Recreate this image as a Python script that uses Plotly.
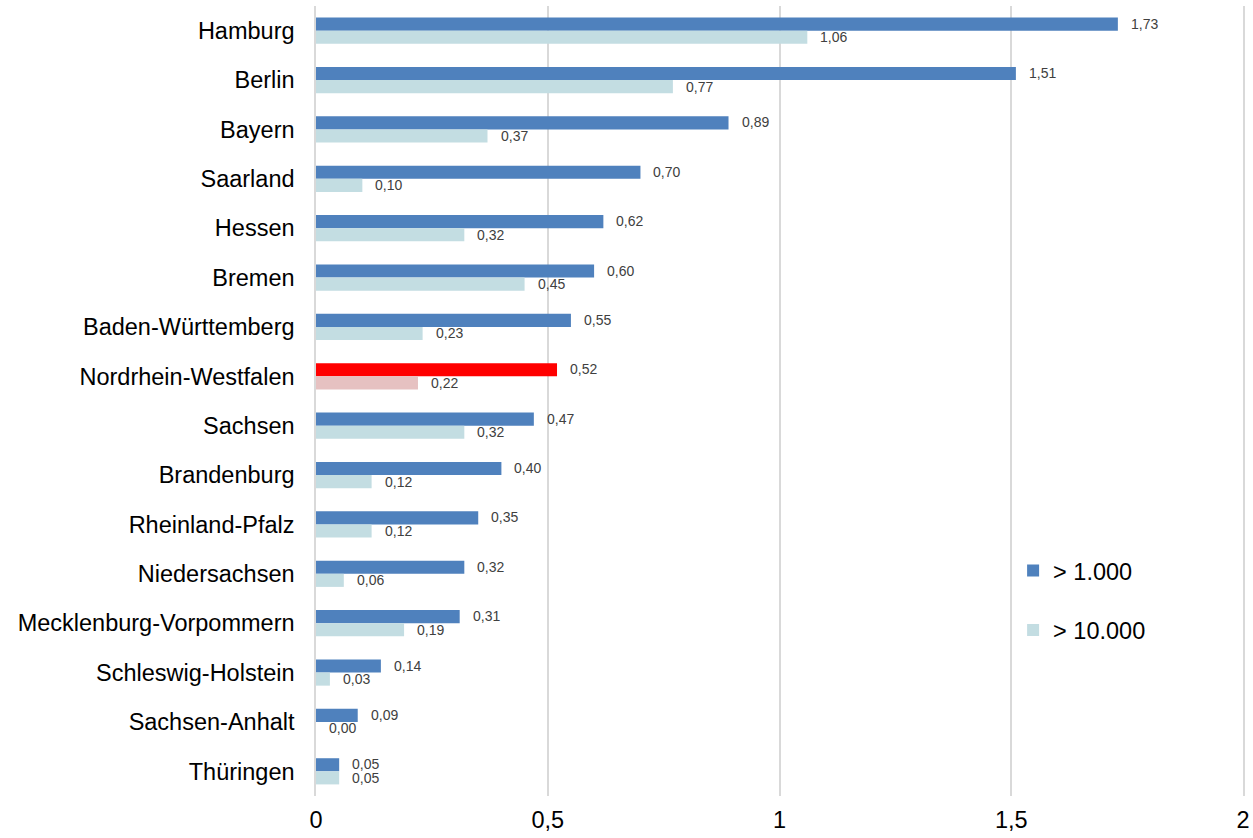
import plotly.graph_objects as go

laender = ["Hamburg", "Berlin", "Bayern", "Saarland", "Hessen", "Bremen",
           "Baden-Württemberg", "Nordrhein-Westfalen", "Sachsen", "Brandenburg",
           "Rheinland-Pfalz", "Niedersachsen", "Mecklenburg-Vorpommern",
           "Schleswig-Holstein", "Sachsen-Anhalt", "Thüringen"]
ueber_1000 = [1.73, 1.51, 0.89, 0.70, 0.62, 0.60, 0.55, 0.52, 0.47, 0.40,
              0.35, 0.32, 0.31, 0.14, 0.09, 0.05]
ueber_10000 = [1.06, 0.77, 0.37, 0.10, 0.32, 0.45, 0.23, 0.22, 0.32, 0.12,
               0.12, 0.06, 0.19, 0.03, 0.00, 0.05]
x_ticks = [0, 0.5, 1, 1.5, 2]
x_ticklabels = ["0", "0,5", "1", "1,5", "2"]

highlight = "Nordrhein-Westfalen"
c1 = ["#FF0000" if l == highlight else "#4F81BD" for l in laender]
c2 = ["#E6C1C1" if l == highlight else "#C3DDE2" for l in laender]

FONT = "Liberation Sans, Arial"

fig = go.Figure()
fig.add_trace(go.Bar(y=laender, x=ueber_1000, orientation="h", name="> 1.000",
                     marker=dict(color=c1, line=dict(width=0)), legendgroup="a",
                     hoverinfo="skip"))
fig.add_trace(go.Bar(y=laender, x=ueber_10000, orientation="h", name="> 10.000",
                     marker=dict(color=c2, line=dict(width=0)), legendgroup="b",
                     hoverinfo="skip"))

def fmt(v):
    return f"{v:.2f}".replace(".", ",")

ann = []
for l, v in zip(laender, ueber_1000):
    ann.append(dict(x=v, y=l, text=fmt(v), xanchor="left", yanchor="middle",
                    xshift=11, yshift=7, showarrow=False,
                    font=dict(size=14, color="#404040", family=FONT)))
for l, v in zip(laender, ueber_10000):
    ann.append(dict(x=v, y=l, text=fmt(v), xanchor="left", yanchor="middle",
                    xshift=11, yshift=-6.5, showarrow=False,
                    font=dict(size=14, color="#404040", family=FONT)))

fig.update_layout(
    width=1253, height=838,
    margin=dict(l=316, r=10, t=6, b=42, autoexpand=False),
    paper_bgcolor="white", plot_bgcolor="white",
    barmode="group", bargap=0.47, bargroupgap=0,
    font=dict(family=FONT, color="black"),
    annotations=ann,
    legend=dict(x=0.752, y=0.313, xanchor="left", yanchor="top",
                traceorder="grouped", tracegroupgap=26,
                font=dict(size=23.5, color="black"), bgcolor="rgba(0,0,0,0)"),
    xaxis=dict(range=[0, 2], tickvals=x_ticks, ticktext=x_ticklabels,
               showgrid=True, gridcolor="#D9D9D9", gridwidth=1.5,
               zeroline=False, showline=False,
               tickfont=dict(size=23.5, color="black"), ticklabelstandoff=7),
    yaxis=dict(autorange="reversed", showgrid=False, zeroline=False,
               showline=True, linecolor="#D9D9D9", linewidth=1.5, mirror=True,
               layer="below traces",
               tickfont=dict(size=23.5, color="black"),
               ticklabelstandoff=15),
)

fig.write_html("out.html", config={"displayModeBar": False},
               post_script="document.body.style.margin='0';document.body.style.padding='0';")
